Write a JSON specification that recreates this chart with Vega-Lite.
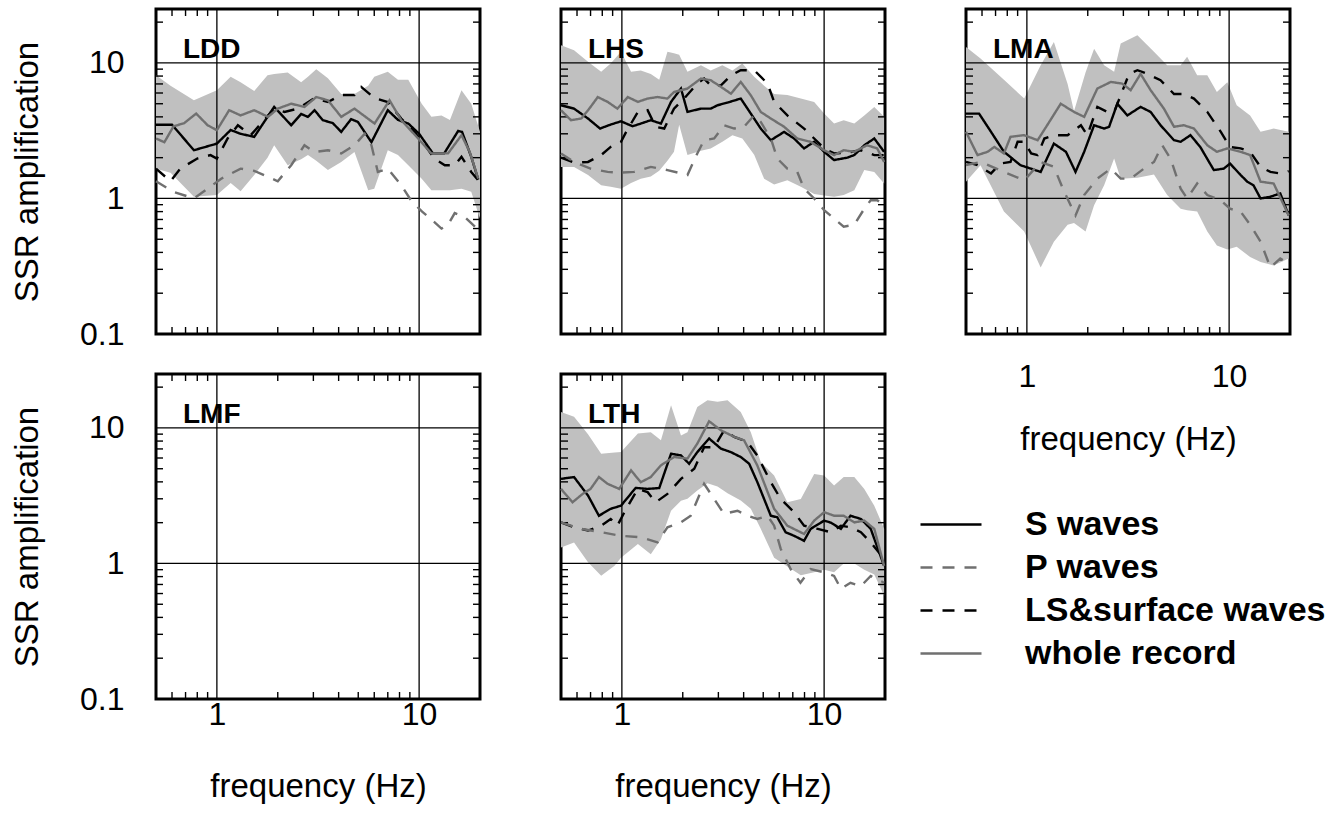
{
"$schema": "https://vega.github.io/schema/vega-lite/v6.json",
"padding": {"left": 10, "top": 6, "right": 5, "bottom": 5},
"config": {
  "font": "Liberation Sans",
  "view": {"stroke": "black", "strokeWidth": 3},
  "axis": {"ticks": false, "domain": false, "grid": false, "labelFont": "Liberation Sans", "labelFontSize": 32, "labelColor": "black", "labelOverlap": false, "labelFlush": false, "labelBound": false, "titleFont": "Liberation Sans", "titleFontSize": 33, "titleFontWeight": "normal", "titleColor": "black", "zindex": 1},
  "legend": {"symbolType": "stroke", "symbolSize": 3721, "symbolStrokeWidth": 2.5, "labelFontSize": 34, "labelFontWeight": "bold", "labelFont": "Liberation Sans", "labelColor": "black", "labelOffset": 42, "clipHeight": 43, "rowPadding": 0, "padding": 0, "labelLimit": 500}
},
"datasets": {
"gridvals": [{"g": 1}, {"g": 10}],
"xticks": [{"t": 0.6}, {"t": 0.7}, {"t": 0.8}, {"t": 0.9}, {"t": 2}, {"t": 3}, {"t": 4}, {"t": 5}, {"t": 6}, {"t": 7}, {"t": 8}, {"t": 9}],
"yticks": [{"t": 0.2}, {"t": 0.3}, {"t": 0.4}, {"t": 0.5}, {"t": 0.6}, {"t": 0.7}, {"t": 0.8}, {"t": 0.9}, {"t": 2}, {"t": 3}, {"t": 4}, {"t": 5}, {"t": 6}, {"t": 7}, {"t": 8}, {"t": 9}, {"t": 20}],
"names": [{"st": "LDD", "f": 0.68, "a": 10.8}, {"st": "LHS", "f": 0.68, "a": 10.8}, {"st": "LMA", "f": 0.68, "a": 10.8}, {"st": "LMF", "f": 0.68, "a": 10.8}, {"st": "LTH", "f": 0.68, "a": 10.8}],
"band": [
{"st":"LDD","f":0.5,"lo":1.66,"hi":8.1},{"st":"LDD","f":0.59,"lo":1.55,"hi":6.8},{"st":"LDD","f":0.77,"lo":1.03,"hi":5.3},{"st":"LDD","f":1.0,"lo":1.06,"hi":6.3},{"st":"LDD","f":1.17,"lo":1.3,"hi":7.9},{"st":"LDD","f":1.31,"lo":1.13,"hi":7.2},{"st":"LDD","f":1.53,"lo":1.49,"hi":6.2},{"st":"LDD","f":1.78,"lo":2.0,"hi":8.1},{"st":"LDD","f":1.92,"lo":2.47,"hi":8.3},{"st":"LDD","f":2.24,"lo":1.76,"hi":8.5},{"st":"LDD","f":2.61,"lo":1.95,"hi":7.2},{"st":"LDD","f":2.82,"lo":2.09,"hi":7.9},{"st":"LDD","f":3.1,"lo":1.9,"hi":9.0},{"st":"LDD","f":3.54,"lo":1.62,"hi":7.7},{"st":"LDD","f":4.12,"lo":1.86,"hi":5.9},{"st":"LDD","f":4.79,"lo":2.2,"hi":5.9},{"st":"LDD","f":5.6,"lo":1.15,"hi":6.8},{"st":"LDD","f":6.0,"lo":1.18,"hi":7.9},{"st":"LDD","f":7.0,"lo":2.27,"hi":8.6},{"st":"LDD","f":7.86,"lo":2.09,"hi":7.5},{"st":"LDD","f":8.84,"lo":1.76,"hi":7.5},{"st":"LDD","f":10.3,"lo":1.4,"hi":5.0},{"st":"LDD","f":11.5,"lo":1.15,"hi":4.0},{"st":"LDD","f":12.9,"lo":1.15,"hi":4.1},{"st":"LDD","f":14.2,"lo":1.15,"hi":3.8},{"st":"LDD","f":16.2,"lo":1.18,"hi":6.3},{"st":"LDD","f":18.1,"lo":1.12,"hi":5.0},{"st":"LDD","f":20,"lo":0.71,"hi":3.1},
{"st":"LHS","f":0.5,"lo":1.71,"hi":13.5},{"st":"LHS","f":0.58,"lo":1.71,"hi":12.4},{"st":"LHS","f":0.68,"lo":1.49,"hi":10.2},{"st":"LHS","f":0.79,"lo":1.25,"hi":8.6},{"st":"LHS","f":0.88,"lo":1.22,"hi":9.9},{"st":"LHS","f":0.99,"lo":1.18,"hi":12.1},{"st":"LHS","f":1.11,"lo":1.3,"hi":8.6},{"st":"LHS","f":1.24,"lo":1.4,"hi":8.8},{"st":"LHS","f":1.39,"lo":1.45,"hi":8.3},{"st":"LHS","f":1.53,"lo":1.6,"hi":7.5},{"st":"LHS","f":1.68,"lo":1.9,"hi":12.1},{"st":"LHS","f":1.81,"lo":2.21,"hi":11.8},{"st":"LHS","f":1.92,"lo":3.5,"hi":11.5},{"st":"LHS","f":2.11,"lo":2.09,"hi":8.6},{"st":"LHS","f":2.46,"lo":2.25,"hi":9.6},{"st":"LHS","f":2.75,"lo":2.34,"hi":8.8},{"st":"LHS","f":3.14,"lo":2.62,"hi":9.6},{"st":"LHS","f":3.52,"lo":2.93,"hi":8.8},{"st":"LHS","f":3.94,"lo":2.77,"hi":9.9},{"st":"LHS","f":4.51,"lo":2.1,"hi":7.9},{"st":"LHS","f":5.05,"lo":1.4,"hi":6.8},{"st":"LHS","f":5.66,"lo":1.27,"hi":5.9},{"st":"LHS","f":6.58,"lo":1.36,"hi":5.8},{"st":"LHS","f":7.67,"lo":1.22,"hi":5.46},{"st":"LHS","f":8.93,"lo":1.08,"hi":5.16},{"st":"LHS","f":10,"lo":1.05,"hi":4.23},{"st":"LHS","f":11.2,"lo":1.03,"hi":3.57},{"st":"LHS","f":12.5,"lo":1.06,"hi":3.78},{"st":"LHS","f":14.1,"lo":1.15,"hi":3.57},{"st":"LHS","f":15.8,"lo":1.62,"hi":4.1},{"st":"LHS","f":17.7,"lo":1.57,"hi":4.74},{"st":"LHS","f":19.8,"lo":1.29,"hi":4.0},
{"st":"LMA","f":0.5,"lo":1.33,"hi":13.1},{"st":"LMA","f":0.59,"lo":1.76,"hi":10.8},{"st":"LMA","f":0.77,"lo":0.8,"hi":7.5},{"st":"LMA","f":0.97,"lo":0.57,"hi":5.46},{"st":"LMA","f":1.17,"lo":0.31,"hi":9.6},{"st":"LMA","f":1.36,"lo":0.48,"hi":14.3},{"st":"LMA","f":1.59,"lo":0.64,"hi":7.0},{"st":"LMA","f":1.71,"lo":0.66,"hi":4.4},{"st":"LMA","f":1.95,"lo":0.57,"hi":8.5},{"st":"LMA","f":2.15,"lo":0.89,"hi":12.7},{"st":"LMA","f":2.41,"lo":1.25,"hi":9.6},{"st":"LMA","f":2.7,"lo":1.97,"hi":8.6},{"st":"LMA","f":2.91,"lo":1.4,"hi":13.9},{"st":"LMA","f":3.52,"lo":1.42,"hi":16.0},{"st":"LMA","f":4.25,"lo":1.5,"hi":12.1},{"st":"LMA","f":4.94,"lo":1.06,"hi":9.6},{"st":"LMA","f":5.76,"lo":0.84,"hi":9.6},{"st":"LMA","f":6.2,"lo":0.82,"hi":11.1},{"st":"LMA","f":6.95,"lo":0.8,"hi":8.1},{"st":"LMA","f":7.8,"lo":0.57,"hi":8.1},{"st":"LMA","f":8.7,"lo":0.45,"hi":6.1},{"st":"LMA","f":9.8,"lo":0.42,"hi":7.2},{"st":"LMA","f":10.9,"lo":0.44,"hi":4.87},{"st":"LMA","f":12.7,"lo":0.37,"hi":4.1},{"st":"LMA","f":14.3,"lo":0.34,"hi":3.1},{"st":"LMA","f":16.6,"lo":0.32,"hi":3.28},{"st":"LMA","f":19.7,"lo":0.36,"hi":3.1},
{"st":"LTH","f":0.5,"lo":1.31,"hi":13.1},{"st":"LTH","f":0.58,"lo":1.43,"hi":12.1},{"st":"LTH","f":0.68,"lo":1.02,"hi":9.0},{"st":"LTH","f":0.79,"lo":0.81,"hi":6.45},{"st":"LTH","f":0.92,"lo":0.96,"hi":6.6},{"st":"LTH","f":0.99,"lo":1.1,"hi":6.64},{"st":"LTH","f":1.2,"lo":1.39,"hi":9.1},{"st":"LTH","f":1.39,"lo":1.17,"hi":9.3},{"st":"LTH","f":1.56,"lo":1.51,"hi":8.1},{"st":"LTH","f":1.75,"lo":2.45,"hi":14.7},{"st":"LTH","f":1.96,"lo":2.9,"hi":8.8},{"st":"LTH","f":2.11,"lo":3.0,"hi":9.3},{"st":"LTH","f":2.36,"lo":3.45,"hi":14.3},{"st":"LTH","f":2.65,"lo":3.9,"hi":16.0},{"st":"LTH","f":2.97,"lo":3.7,"hi":15.6},{"st":"LTH","f":3.33,"lo":3.3,"hi":16.0},{"st":"LTH","f":3.87,"lo":2.91,"hi":13.1},{"st":"LTH","f":4.34,"lo":2.53,"hi":9.3},{"st":"LTH","f":4.86,"lo":1.8,"hi":5.6},{"st":"LTH","f":5.66,"lo":1.1,"hi":4.46},{"st":"LTH","f":6.58,"lo":0.95,"hi":2.83},{"st":"LTH","f":7.67,"lo":0.82,"hi":2.99},{"st":"LTH","f":8.93,"lo":0.86,"hi":4.58},{"st":"LTH","f":10,"lo":0.9,"hi":4.46},{"st":"LTH","f":11.2,"lo":0.86,"hi":3.76},{"st":"LTH","f":12.5,"lo":1.0,"hi":4.34},{"st":"LTH","f":14.1,"lo":1.0,"hi":4.34},{"st":"LTH","f":15.8,"lo":0.9,"hi":3.55},{"st":"LTH","f":17.7,"lo":0.83,"hi":2.67},{"st":"LTH","f":19.8,"lo":0.58,"hi":1.8}
],
"lines": [
{"st":"LDD","s":"S waves","f":0.5,"a":3.5},{"st":"LDD","s":"S waves","f":0.6,"a":3.5},{"st":"LDD","s":"S waves","f":0.77,"a":2.27},{"st":"LDD","s":"S waves","f":1.0,"a":2.54},{"st":"LDD","s":"S waves","f":1.17,"a":3.2},{"st":"LDD","s":"S waves","f":1.31,"a":3.0},{"st":"LDD","s":"S waves","f":1.53,"a":2.85},{"st":"LDD","s":"S waves","f":1.92,"a":4.74},{"st":"LDD","s":"S waves","f":2.33,"a":3.47},{"st":"LDD","s":"S waves","f":2.61,"a":4.2},{"st":"LDD","s":"S waves","f":2.82,"a":4.0},{"st":"LDD","s":"S waves","f":3.04,"a":4.48},{"st":"LDD","s":"S waves","f":3.34,"a":3.78},{"st":"LDD","s":"S waves","f":3.74,"a":3.6},{"st":"LDD","s":"S waves","f":4.12,"a":3.1},{"st":"LDD","s":"S waves","f":4.61,"a":3.85},{"st":"LDD","s":"S waves","f":4.98,"a":3.67},{"st":"LDD","s":"S waves","f":5.81,"a":2.6},{"st":"LDD","s":"S waves","f":7.0,"a":4.48},{"st":"LDD","s":"S waves","f":7.86,"a":3.8},{"st":"LDD","s":"S waves","f":8.84,"a":3.57},{"st":"LDD","s":"S waves","f":10.0,"a":3.0},{"st":"LDD","s":"S waves","f":11.7,"a":2.15},{"st":"LDD","s":"S waves","f":13.3,"a":2.15},{"st":"LDD","s":"S waves","f":15.6,"a":3.15},{"st":"LDD","s":"S waves","f":16.3,"a":3.1},{"st":"LDD","s":"S waves","f":18.1,"a":2.03},{"st":"LDD","s":"S waves","f":19.6,"a":1.38},
{"st":"LDD","s":"LS&surface waves","f":0.5,"a":1.66},{"st":"LDD","s":"LS&surface waves","f":0.59,"a":1.34},{"st":"LDD","s":"LS&surface waves","f":0.66,"a":1.66},{"st":"LDD","s":"LS&surface waves","f":0.8,"a":1.97},{"st":"LDD","s":"LS&surface waves","f":0.93,"a":2.09},{"st":"LDD","s":"LS&surface waves","f":1.0,"a":1.97},{"st":"LDD","s":"LS&surface waves","f":1.13,"a":2.77},{"st":"LDD","s":"LS&surface waves","f":1.27,"a":3.47},{"st":"LDD","s":"LS&surface waves","f":1.47,"a":2.93},{"st":"LDD","s":"LS&surface waves","f":1.92,"a":4.6},{"st":"LDD","s":"LS&surface waves","f":2.16,"a":4.35},{"st":"LDD","s":"LS&surface waves","f":2.51,"a":4.6},{"st":"LDD","s":"LS&surface waves","f":3.04,"a":5.5},{"st":"LDD","s":"LS&surface waves","f":3.54,"a":5.15},{"st":"LDD","s":"LS&surface waves","f":4.12,"a":5.8},{"st":"LDD","s":"LS&surface waves","f":4.79,"a":5.8},{"st":"LDD","s":"LS&surface waves","f":5.17,"a":6.65},{"st":"LDD","s":"LS&surface waves","f":6.02,"a":5.5},{"st":"LDD","s":"LS&surface waves","f":7.0,"a":5.15},{"st":"LDD","s":"LS&surface waves","f":8.16,"a":3.89},{"st":"LDD","s":"LS&surface waves","f":9.47,"a":3.1},{"st":"LDD","s":"LS&surface waves","f":10.7,"a":2.47},{"st":"LDD","s":"LS&surface waves","f":11.9,"a":1.97},{"st":"LDD","s":"LS&surface waves","f":13.4,"a":1.76},{"st":"LDD","s":"LS&surface waves","f":15.0,"a":1.76},{"st":"LDD","s":"LS&surface waves","f":16.2,"a":2.03},{"st":"LDD","s":"LS&surface waves","f":18.1,"a":1.57},{"st":"LDD","s":"LS&surface waves","f":19.6,"a":1.36},
{"st":"LDD","s":"whole record","f":0.5,"a":2.77},{"st":"LDD","s":"whole record","f":0.55,"a":2.6},{"st":"LDD","s":"whole record","f":0.61,"a":3.4},{"st":"LDD","s":"whole record","f":0.69,"a":3.6},{"st":"LDD","s":"whole record","f":0.79,"a":4.23},{"st":"LDD","s":"whole record","f":0.9,"a":3.47},{"st":"LDD","s":"whole record","f":1.0,"a":3.19},{"st":"LDD","s":"whole record","f":1.15,"a":4.48},{"st":"LDD","s":"whole record","f":1.31,"a":4.1},{"st":"LDD","s":"whole record","f":1.53,"a":4.48},{"st":"LDD","s":"whole record","f":1.79,"a":4.0},{"st":"LDD","s":"whole record","f":2.0,"a":4.6},{"st":"LDD","s":"whole record","f":2.33,"a":5.0},{"st":"LDD","s":"whole record","f":2.71,"a":4.74},{"st":"LDD","s":"whole record","f":3.1,"a":5.6},{"st":"LDD","s":"whole record","f":3.54,"a":5.3},{"st":"LDD","s":"whole record","f":4.12,"a":4.0},{"st":"LDD","s":"whole record","f":4.79,"a":4.6},{"st":"LDD","s":"whole record","f":6.02,"a":3.57},{"st":"LDD","s":"whole record","f":7.14,"a":5.3},{"st":"LDD","s":"whole record","f":8.16,"a":3.78},{"st":"LDD","s":"whole record","f":9.9,"a":2.77},{"st":"LDD","s":"whole record","f":11.5,"a":2.15},{"st":"LDD","s":"whole record","f":13.9,"a":2.15},{"st":"LDD","s":"whole record","f":16.2,"a":2.93},{"st":"LDD","s":"whole record","f":17.8,"a":2.2},{"st":"LDD","s":"whole record","f":19.6,"a":1.4},
{"st":"LDD","s":"P waves","f":0.5,"a":1.34},{"st":"LDD","s":"P waves","f":0.61,"a":1.12},{"st":"LDD","s":"P waves","f":0.77,"a":1.0},{"st":"LDD","s":"P waves","f":0.9,"a":1.18},{"st":"LDD","s":"P waves","f":1.05,"a":1.4},{"st":"LDD","s":"P waves","f":1.31,"a":1.66},{"st":"LDD","s":"P waves","f":1.53,"a":1.6},{"st":"LDD","s":"P waves","f":2.0,"a":1.34},{"st":"LDD","s":"P waves","f":2.33,"a":1.76},{"st":"LDD","s":"P waves","f":2.71,"a":2.47},{"st":"LDD","s":"P waves","f":3.04,"a":2.2},{"st":"LDD","s":"P waves","f":3.54,"a":2.27},{"st":"LDD","s":"P waves","f":4.12,"a":2.15},{"st":"LDD","s":"P waves","f":4.79,"a":2.47},{"st":"LDD","s":"P waves","f":5.38,"a":3.0},{"st":"LDD","s":"P waves","f":5.81,"a":2.47},{"st":"LDD","s":"P waves","f":6.25,"a":1.57},{"st":"LDD","s":"P waves","f":7.0,"a":1.66},{"st":"LDD","s":"P waves","f":8.16,"a":1.25},{"st":"LDD","s":"P waves","f":9.2,"a":0.95},{"st":"LDD","s":"P waves","f":10.35,"a":0.8},{"st":"LDD","s":"P waves","f":11.9,"a":0.67},{"st":"LDD","s":"P waves","f":12.9,"a":0.6},{"st":"LDD","s":"P waves","f":13.9,"a":0.64},{"st":"LDD","s":"P waves","f":15.0,"a":0.78},{"st":"LDD","s":"P waves","f":16.8,"a":0.73},{"st":"LDD","s":"P waves","f":18.9,"a":0.62},{"st":"LDD","s":"P waves","f":20,"a":0.71},
{"st":"LHS","s":"S waves","f":0.5,"a":4.87},{"st":"LHS","s":"S waves","f":0.58,"a":4.6},{"st":"LHS","s":"S waves","f":0.68,"a":3.89},{"st":"LHS","s":"S waves","f":0.78,"a":3.28},{"st":"LHS","s":"S waves","f":0.88,"a":3.51},{"st":"LHS","s":"S waves","f":0.99,"a":3.71},{"st":"LHS","s":"S waves","f":1.13,"a":3.41},{"st":"LHS","s":"S waves","f":1.24,"a":3.57},{"st":"LHS","s":"S waves","f":1.39,"a":3.78},{"st":"LHS","s":"S waves","f":1.56,"a":3.57},{"st":"LHS","s":"S waves","f":1.75,"a":5.16},{"st":"LHS","s":"S waves","f":1.96,"a":6.47},{"st":"LHS","s":"S waves","f":2.11,"a":4.35},{"st":"LHS","s":"S waves","f":2.46,"a":4.6},{"st":"LHS","s":"S waves","f":2.75,"a":4.6},{"st":"LHS","s":"S waves","f":2.97,"a":4.87},{"st":"LHS","s":"S waves","f":3.33,"a":5.1},{"st":"LHS","s":"S waves","f":3.87,"a":5.46},{"st":"LHS","s":"S waves","f":4.34,"a":4.23},{"st":"LHS","s":"S waves","f":4.86,"a":3.28},{"st":"LHS","s":"S waves","f":5.45,"a":2.69},{"st":"LHS","s":"S waves","f":6.34,"a":3.1},{"st":"LHS","s":"S waves","f":7.1,"a":2.77},{"st":"LHS","s":"S waves","f":7.96,"a":2.34},{"st":"LHS","s":"S waves","f":8.93,"a":2.62},{"st":"LHS","s":"S waves","f":10,"a":2.21},{"st":"LHS","s":"S waves","f":11.2,"a":1.92},{"st":"LHS","s":"S waves","f":13.0,"a":2.0},{"st":"LHS","s":"S waves","f":14.1,"a":2.09},{"st":"LHS","s":"S waves","f":15.8,"a":2.47},{"st":"LHS","s":"S waves","f":17.7,"a":2.77},{"st":"LHS","s":"S waves","f":19.8,"a":2.21},
{"st":"LHS","s":"LS&surface waves","f":0.5,"a":2.0},{"st":"LHS","s":"LS&surface waves","f":0.58,"a":1.84},{"st":"LHS","s":"LS&surface waves","f":0.68,"a":1.86},{"st":"LHS","s":"LS&surface waves","f":0.79,"a":2.09},{"st":"LHS","s":"LS&surface waves","f":0.88,"a":2.4},{"st":"LHS","s":"LS&surface waves","f":0.99,"a":2.62},{"st":"LHS","s":"LS&surface waves","f":1.05,"a":3.1},{"st":"LHS","s":"LS&surface waves","f":1.2,"a":4.35},{"st":"LHS","s":"LS&surface waves","f":1.34,"a":4.48},{"st":"LHS","s":"LS&surface waves","f":1.47,"a":3.38},{"st":"LHS","s":"LS&surface waves","f":1.62,"a":3.28},{"st":"LHS","s":"LS&surface waves","f":1.81,"a":4.6},{"st":"LHS","s":"LS&surface waves","f":2.03,"a":5.46},{"st":"LHS","s":"LS&surface waves","f":2.36,"a":7.04},{"st":"LHS","s":"LS&surface waves","f":2.55,"a":7.67},{"st":"LHS","s":"LS&surface waves","f":2.75,"a":6.83},{"st":"LHS","s":"LS&surface waves","f":3.09,"a":6.83},{"st":"LHS","s":"LS&surface waves","f":3.46,"a":8.1},{"st":"LHS","s":"LS&surface waves","f":3.87,"a":8.84},{"st":"LHS","s":"LS&surface waves","f":4.51,"a":8.84},{"st":"LHS","s":"LS&surface waves","f":5.25,"a":7.04},{"st":"LHS","s":"LS&surface waves","f":5.66,"a":5.16},{"st":"LHS","s":"LS&surface waves","f":6.58,"a":4.1},{"st":"LHS","s":"LS&surface waves","f":7.96,"a":3.28},{"st":"LHS","s":"LS&surface waves","f":8.93,"a":2.77},{"st":"LHS","s":"LS&surface waves","f":10,"a":2.34},{"st":"LHS","s":"LS&surface waves","f":11.2,"a":2.15},{"st":"LHS","s":"LS&surface waves","f":13,"a":2.18},{"st":"LHS","s":"LS&surface waves","f":15.2,"a":2.27},{"st":"LHS","s":"LS&surface waves","f":17.7,"a":2.09},{"st":"LHS","s":"LS&surface waves","f":19.8,"a":2.09},
{"st":"LHS","s":"whole record","f":0.5,"a":4.48},{"st":"LHS","s":"whole record","f":0.56,"a":3.78},{"st":"LHS","s":"whole record","f":0.63,"a":3.89},{"st":"LHS","s":"whole record","f":0.69,"a":4.6},{"st":"LHS","s":"whole record","f":0.76,"a":5.6},{"st":"LHS","s":"whole record","f":0.85,"a":5.16},{"st":"LHS","s":"whole record","f":0.95,"a":4.6},{"st":"LHS","s":"whole record","f":1.07,"a":5.6},{"st":"LHS","s":"whole record","f":1.2,"a":5.16},{"st":"LHS","s":"whole record","f":1.34,"a":5.46},{"st":"LHS","s":"whole record","f":1.5,"a":5.6},{"st":"LHS","s":"whole record","f":1.68,"a":5.46},{"st":"LHS","s":"whole record","f":1.81,"a":6.1},{"st":"LHS","s":"whole record","f":2.11,"a":6.47},{"st":"LHS","s":"whole record","f":2.46,"a":7.67},{"st":"LHS","s":"whole record","f":2.75,"a":7.45},{"st":"LHS","s":"whole record","f":3.09,"a":6.66},{"st":"LHS","s":"whole record","f":3.46,"a":5.93},{"st":"LHS","s":"whole record","f":3.87,"a":7.24},{"st":"LHS","s":"whole record","f":4.34,"a":5.77},{"st":"LHS","s":"whole record","f":4.86,"a":4.35},{"st":"LHS","s":"whole record","f":5.45,"a":3.89},{"st":"LHS","s":"whole record","f":6.34,"a":3.38},{"st":"LHS","s":"whole record","f":7.37,"a":2.77},{"st":"LHS","s":"whole record","f":8.56,"a":2.62},{"st":"LHS","s":"whole record","f":10,"a":2.27},{"st":"LHS","s":"whole record","f":11.2,"a":2.09},{"st":"LHS","s":"whole record","f":12.5,"a":2.27},{"st":"LHS","s":"whole record","f":14.1,"a":2.21},{"st":"LHS","s":"whole record","f":16.3,"a":2.47},{"st":"LHS","s":"whole record","f":18.3,"a":2.34},{"st":"LHS","s":"whole record","f":19.8,"a":1.86},
{"st":"LHS","s":"P waves","f":0.5,"a":2.15},{"st":"LHS","s":"P waves","f":0.58,"a":1.86},{"st":"LHS","s":"P waves","f":0.7,"a":1.66},{"st":"LHS","s":"P waves","f":0.85,"a":1.57},{"st":"LHS","s":"P waves","f":0.99,"a":1.55},{"st":"LHS","s":"P waves","f":1.15,"a":1.57},{"st":"LHS","s":"P waves","f":1.39,"a":1.71},{"st":"LHS","s":"P waves","f":1.68,"a":1.62},{"st":"LHS","s":"P waves","f":2.11,"a":1.49},{"st":"LHS","s":"P waves","f":2.36,"a":2.15},{"st":"LHS","s":"P waves","f":2.55,"a":2.69},{"st":"LHS","s":"P waves","f":2.86,"a":2.77},{"st":"LHS","s":"P waves","f":3.2,"a":3.47},{"st":"LHS","s":"P waves","f":3.59,"a":3.28},{"st":"LHS","s":"P waves","f":4.02,"a":3.38},{"st":"LHS","s":"P waves","f":4.51,"a":4.1},{"st":"LHS","s":"P waves","f":4.86,"a":3.67},{"st":"LHS","s":"P waves","f":5.45,"a":2.77},{"st":"LHS","s":"P waves","f":5.87,"a":1.97},{"st":"LHS","s":"P waves","f":6.58,"a":1.66},{"st":"LHS","s":"P waves","f":7.37,"a":1.57},{"st":"LHS","s":"P waves","f":7.96,"a":1.18},{"st":"LHS","s":"P waves","f":8.93,"a":1.0},{"st":"LHS","s":"P waves","f":10,"a":0.82},{"st":"LHS","s":"P waves","f":11.2,"a":0.71},{"st":"LHS","s":"P waves","f":12.5,"a":0.62},{"st":"LHS","s":"P waves","f":14.1,"a":0.64},{"st":"LHS","s":"P waves","f":15.8,"a":0.84},{"st":"LHS","s":"P waves","f":17,"a":0.97},{"st":"LHS","s":"P waves","f":18.3,"a":0.97},{"st":"LHS","s":"P waves","f":19.8,"a":0.89},
{"st":"LMA","s":"S waves","f":0.5,"a":4.23},{"st":"LMA","s":"S waves","f":0.58,"a":4.23},{"st":"LMA","s":"S waves","f":0.665,"a":3.1},{"st":"LMA","s":"S waves","f":0.77,"a":2.21},{"st":"LMA","s":"S waves","f":0.93,"a":1.76},{"st":"LMA","s":"S waves","f":1.17,"a":1.57},{"st":"LMA","s":"S waves","f":1.36,"a":2.54},{"st":"LMA","s":"S waves","f":1.56,"a":2.21},{"st":"LMA","s":"S waves","f":1.74,"a":1.57},{"st":"LMA","s":"S waves","f":1.92,"a":2.21},{"st":"LMA","s":"S waves","f":2.15,"a":3.47},{"st":"LMA","s":"S waves","f":2.41,"a":3.28},{"st":"LMA","s":"S waves","f":2.55,"a":3.38},{"st":"LMA","s":"S waves","f":2.8,"a":5.0},{"st":"LMA","s":"S waves","f":3.14,"a":4.1},{"st":"LMA","s":"S waves","f":3.65,"a":4.74},{"st":"LMA","s":"S waves","f":4.09,"a":4.35},{"st":"LMA","s":"S waves","f":4.58,"a":3.47},{"st":"LMA","s":"S waves","f":5.34,"a":2.69},{"st":"LMA","s":"S waves","f":5.76,"a":2.62},{"st":"LMA","s":"S waves","f":6.44,"a":2.93},{"st":"LMA","s":"S waves","f":7.2,"a":2.4},{"st":"LMA","s":"S waves","f":8.4,"a":1.62},{"st":"LMA","s":"S waves","f":9.4,"a":1.66},{"st":"LMA","s":"S waves","f":10.1,"a":1.81},{"st":"LMA","s":"S waves","f":11.4,"a":1.49},{"st":"LMA","s":"S waves","f":12.3,"a":1.33},{"st":"LMA","s":"S waves","f":13.2,"a":1.25},{"st":"LMA","s":"S waves","f":14.3,"a":1.0},{"st":"LMA","s":"S waves","f":16.0,"a":1.03},{"st":"LMA","s":"S waves","f":17.9,"a":1.09},{"st":"LMA","s":"S waves","f":19.7,"a":0.75},
{"st":"LMA","s":"LS&surface waves","f":0.5,"a":1.86},{"st":"LMA","s":"LS&surface waves","f":0.57,"a":1.76},{"st":"LMA","s":"LS&surface waves","f":0.665,"a":1.53},{"st":"LMA","s":"LS&surface waves","f":0.74,"a":1.81},{"st":"LMA","s":"LS&surface waves","f":0.83,"a":1.86},{"st":"LMA","s":"LS&surface waves","f":0.9,"a":2.62},{"st":"LMA","s":"LS&surface waves","f":0.97,"a":2.62},{"st":"LMA","s":"LS&surface waves","f":1.05,"a":2.15},{"st":"LMA","s":"LS&surface waves","f":1.13,"a":2.09},{"st":"LMA","s":"LS&surface waves","f":1.22,"a":2.77},{"st":"LMA","s":"LS&surface waves","f":1.36,"a":2.93},{"st":"LMA","s":"LS&surface waves","f":1.59,"a":2.93},{"st":"LMA","s":"LS&surface waves","f":1.85,"a":3.47},{"st":"LMA","s":"LS&surface waves","f":1.99,"a":2.93},{"st":"LMA","s":"LS&surface waves","f":2.23,"a":4.74},{"st":"LMA","s":"LS&surface waves","f":2.5,"a":4.35},{"st":"LMA","s":"LS&surface waves","f":2.7,"a":4.35},{"st":"LMA","s":"LS&surface waves","f":2.91,"a":5.77},{"st":"LMA","s":"LS&surface waves","f":3.2,"a":8.3},{"st":"LMA","s":"LS&surface waves","f":3.52,"a":8.84},{"st":"LMA","s":"LS&surface waves","f":3.94,"a":8.3},{"st":"LMA","s":"LS&surface waves","f":4.58,"a":7.45},{"st":"LMA","s":"LS&surface waves","f":5.34,"a":5.9},{"st":"LMA","s":"LS&surface waves","f":5.97,"a":5.9},{"st":"LMA","s":"LS&surface waves","f":6.7,"a":5.46},{"st":"LMA","s":"LS&surface waves","f":7.8,"a":4.35},{"st":"LMA","s":"LS&surface waves","f":9.1,"a":3.1},{"st":"LMA","s":"LS&surface waves","f":10.1,"a":2.4},{"st":"LMA","s":"LS&surface waves","f":11.4,"a":2.34},{"st":"LMA","s":"LS&surface waves","f":12.7,"a":2.21},{"st":"LMA","s":"LS&surface waves","f":14.3,"a":1.71},{"st":"LMA","s":"LS&surface waves","f":16.0,"a":1.57},{"st":"LMA","s":"LS&surface waves","f":17.9,"a":1.53},{"st":"LMA","s":"LS&surface waves","f":19.7,"a":1.59},
{"st":"LMA","s":"whole record","f":0.5,"a":3.1},{"st":"LMA","s":"whole record","f":0.57,"a":2.09},{"st":"LMA","s":"whole record","f":0.64,"a":2.21},{"st":"LMA","s":"whole record","f":0.69,"a":2.4},{"st":"LMA","s":"whole record","f":0.77,"a":2.15},{"st":"LMA","s":"whole record","f":0.83,"a":2.85},{"st":"LMA","s":"whole record","f":0.97,"a":2.93},{"st":"LMA","s":"whole record","f":1.13,"a":2.69},{"st":"LMA","s":"whole record","f":1.26,"a":3.47},{"st":"LMA","s":"whole record","f":1.47,"a":5.0},{"st":"LMA","s":"whole record","f":1.71,"a":4.35},{"st":"LMA","s":"whole record","f":1.92,"a":4.0},{"st":"LMA","s":"whole record","f":2.23,"a":6.47},{"st":"LMA","s":"whole record","f":2.6,"a":7.24},{"st":"LMA","s":"whole record","f":2.96,"a":7.04},{"st":"LMA","s":"whole record","f":3.26,"a":6.3},{"st":"LMA","s":"whole record","f":3.65,"a":8.3},{"st":"LMA","s":"whole record","f":4.09,"a":6.3},{"st":"LMA","s":"whole record","f":4.76,"a":4.6},{"st":"LMA","s":"whole record","f":5.34,"a":3.38},{"st":"LMA","s":"whole record","f":5.97,"a":3.47},{"st":"LMA","s":"whole record","f":6.7,"a":3.28},{"st":"LMA","s":"whole record","f":7.8,"a":2.47},{"st":"LMA","s":"whole record","f":8.7,"a":2.21},{"st":"LMA","s":"whole record","f":9.8,"a":2.34},{"st":"LMA","s":"whole record","f":11.4,"a":2.21},{"st":"LMA","s":"whole record","f":12.7,"a":2.09},{"st":"LMA","s":"whole record","f":14.3,"a":1.33},{"st":"LMA","s":"whole record","f":16.6,"a":1.29},{"st":"LMA","s":"whole record","f":19.7,"a":0.75},
{"st":"LMA","s":"P waves","f":0.5,"a":1.76},{"st":"LMA","s":"P waves","f":0.59,"a":1.86},{"st":"LMA","s":"P waves","f":0.77,"a":1.57},{"st":"LMA","s":"P waves","f":0.97,"a":1.36},{"st":"LMA","s":"P waves","f":1.17,"a":1.86},{"st":"LMA","s":"P waves","f":1.36,"a":1.71},{"st":"LMA","s":"P waves","f":1.53,"a":1.12},{"st":"LMA","s":"P waves","f":1.74,"a":0.75},{"st":"LMA","s":"P waves","f":1.92,"a":1.06},{"st":"LMA","s":"P waves","f":2.23,"a":1.4},{"st":"LMA","s":"P waves","f":2.6,"a":1.66},{"st":"LMA","s":"P waves","f":2.91,"a":1.4},{"st":"LMA","s":"P waves","f":3.26,"a":1.4},{"st":"LMA","s":"P waves","f":3.79,"a":1.66},{"st":"LMA","s":"P waves","f":4.25,"a":1.86},{"st":"LMA","s":"P waves","f":4.67,"a":2.47},{"st":"LMA","s":"P waves","f":5.13,"a":1.97},{"st":"LMA","s":"P waves","f":5.76,"a":1.18},{"st":"LMA","s":"P waves","f":6.2,"a":1.0},{"st":"LMA","s":"P waves","f":6.95,"a":1.29},{"st":"LMA","s":"P waves","f":7.8,"a":1.06},{"st":"LMA","s":"P waves","f":9.1,"a":0.97},{"st":"LMA","s":"P waves","f":10.1,"a":0.84},{"st":"LMA","s":"P waves","f":11.4,"a":0.8},{"st":"LMA","s":"P waves","f":12.7,"a":0.64},{"st":"LMA","s":"P waves","f":14.3,"a":0.48},{"st":"LMA","s":"P waves","f":16.0,"a":0.31},{"st":"LMA","s":"P waves","f":17.9,"a":0.36},{"st":"LMA","s":"P waves","f":19.7,"a":0.33},
{"st":"LTH","s":"S waves","f":0.5,"a":4.21},{"st":"LTH","s":"S waves","f":0.58,"a":4.34},{"st":"LTH","s":"S waves","f":0.68,"a":3.17},{"st":"LTH","s":"S waves","f":0.77,"a":2.25},{"st":"LTH","s":"S waves","f":0.88,"a":2.53},{"st":"LTH","s":"S waves","f":0.99,"a":2.67},{"st":"LTH","s":"S waves","f":1.17,"a":3.61},{"st":"LTH","s":"S waves","f":1.34,"a":3.55},{"st":"LTH","s":"S waves","f":1.53,"a":3.6},{"st":"LTH","s":"S waves","f":1.75,"a":6.45},{"st":"LTH","s":"S waves","f":1.96,"a":6.27},{"st":"LTH","s":"S waves","f":2.15,"a":5.44},{"st":"LTH","s":"S waves","f":2.36,"a":6.63},{"st":"LTH","s":"S waves","f":2.7,"a":8.35},{"st":"LTH","s":"S waves","f":3.09,"a":7.03},{"st":"LTH","s":"S waves","f":3.46,"a":6.63},{"st":"LTH","s":"S waves","f":3.87,"a":6.1},{"st":"LTH","s":"S waves","f":4.26,"a":5.44},{"st":"LTH","s":"S waves","f":4.67,"a":4.0},{"st":"LTH","s":"S waves","f":5.45,"a":2.25},{"st":"LTH","s":"S waves","f":5.87,"a":2.19},{"st":"LTH","s":"S waves","f":6.45,"a":1.7},{"st":"LTH","s":"S waves","f":7.1,"a":1.6},{"st":"LTH","s":"S waves","f":7.96,"a":1.47},{"st":"LTH","s":"S waves","f":8.58,"a":1.8},{"st":"LTH","s":"S waves","f":10,"a":2.07},{"st":"LTH","s":"S waves","f":10.8,"a":2.0},{"st":"LTH","s":"S waves","f":12.1,"a":1.8},{"st":"LTH","s":"S waves","f":13.5,"a":2.25},{"st":"LTH","s":"S waves","f":15.2,"a":2.13},{"st":"LTH","s":"S waves","f":17.0,"a":1.8},{"st":"LTH","s":"S waves","f":19.8,"a":0.96},
{"st":"LTH","s":"LS&surface waves","f":0.5,"a":2.01},{"st":"LTH","s":"LS&surface waves","f":0.58,"a":1.85},{"st":"LTH","s":"LS&surface waves","f":0.68,"a":1.75},{"st":"LTH","s":"LS&surface waves","f":0.79,"a":1.9},{"st":"LTH","s":"LS&surface waves","f":0.88,"a":2.13},{"st":"LTH","s":"LS&surface waves","f":0.95,"a":1.9},{"st":"LTH","s":"LS&surface waves","f":1.05,"a":2.53},{"st":"LTH","s":"LS&surface waves","f":1.2,"a":3.55},{"st":"LTH","s":"LS&surface waves","f":1.34,"a":3.36},{"st":"LTH","s":"LS&surface waves","f":1.47,"a":2.83},{"st":"LTH","s":"LS&surface waves","f":1.68,"a":3.26},{"st":"LTH","s":"LS&surface waves","f":1.96,"a":4.21},{"st":"LTH","s":"LS&surface waves","f":2.28,"a":5.0},{"st":"LTH","s":"LS&surface waves","f":2.55,"a":7.2},{"st":"LTH","s":"LS&surface waves","f":2.86,"a":7.2},{"st":"LTH","s":"LS&surface waves","f":3.2,"a":9.6},{"st":"LTH","s":"LS&surface waves","f":3.59,"a":8.6},{"st":"LTH","s":"LS&surface waves","f":4.17,"a":7.9},{"st":"LTH","s":"LS&surface waves","f":4.67,"a":6.27},{"st":"LTH","s":"LS&surface waves","f":5.45,"a":3.98},{"st":"LTH","s":"LS&surface waves","f":6.1,"a":2.99},{"st":"LTH","s":"LS&surface waves","f":7.1,"a":2.39},{"st":"LTH","s":"LS&surface waves","f":7.96,"a":1.9},{"st":"LTH","s":"LS&surface waves","f":9.3,"a":1.8},{"st":"LTH","s":"LS&surface waves","f":10.8,"a":1.7},{"st":"LTH","s":"LS&surface waves","f":12.1,"a":1.9},{"st":"LTH","s":"LS&surface waves","f":13.5,"a":1.85},{"st":"LTH","s":"LS&surface waves","f":15.2,"a":1.7},{"st":"LTH","s":"LS&surface waves","f":17.0,"a":1.43},{"st":"LTH","s":"LS&surface waves","f":19.8,"a":1.08},
{"st":"LTH","s":"whole record","f":0.5,"a":3.55},{"st":"LTH","s":"whole record","f":0.57,"a":2.83},{"st":"LTH","s":"whole record","f":0.64,"a":3.26},{"st":"LTH","s":"whole record","f":0.7,"a":3.55},{"st":"LTH","s":"whole record","f":0.77,"a":4.34},{"st":"LTH","s":"whole record","f":0.85,"a":3.87},{"st":"LTH","s":"whole record","f":0.97,"a":3.55},{"st":"LTH","s":"whole record","f":1.11,"a":4.86},{"st":"LTH","s":"whole record","f":1.24,"a":3.98},{"st":"LTH","s":"whole record","f":1.39,"a":4.34},{"st":"LTH","s":"whole record","f":1.56,"a":5.3},{"st":"LTH","s":"whole record","f":1.81,"a":6.1},{"st":"LTH","s":"whole record","f":2.11,"a":5.94},{"st":"LTH","s":"whole record","f":2.36,"a":7.66},{"st":"LTH","s":"whole record","f":2.7,"a":11.2},{"st":"LTH","s":"whole record","f":3.09,"a":9.6},{"st":"LTH","s":"whole record","f":3.59,"a":8.6},{"st":"LTH","s":"whole record","f":4.02,"a":8.1},{"st":"LTH","s":"whole record","f":4.67,"a":5.3},{"st":"LTH","s":"whole record","f":5.66,"a":2.53},{"st":"LTH","s":"whole record","f":6.58,"a":1.9},{"st":"LTH","s":"whole record","f":7.96,"a":1.65},{"st":"LTH","s":"whole record","f":8.93,"a":2.07},{"st":"LTH","s":"whole record","f":10,"a":2.39},{"st":"LTH","s":"whole record","f":11.2,"a":2.25},{"st":"LTH","s":"whole record","f":12.5,"a":2.25},{"st":"LTH","s":"whole record","f":14.1,"a":2.01},{"st":"LTH","s":"whole record","f":15.8,"a":2.07},{"st":"LTH","s":"whole record","f":17.7,"a":1.8},{"st":"LTH","s":"whole record","f":19.8,"a":0.96},
{"st":"LTH","s":"P waves","f":0.5,"a":2.01},{"st":"LTH","s":"P waves","f":0.63,"a":1.8},{"st":"LTH","s":"P waves","f":0.79,"a":1.7},{"st":"LTH","s":"P waves","f":0.99,"a":1.6},{"st":"LTH","s":"P waves","f":1.24,"a":1.56},{"st":"LTH","s":"P waves","f":1.5,"a":1.43},{"st":"LTH","s":"P waves","f":1.68,"a":1.85},{"st":"LTH","s":"P waves","f":1.96,"a":2.01},{"st":"LTH","s":"P waves","f":2.19,"a":2.25},{"st":"LTH","s":"P waves","f":2.55,"a":3.87},{"st":"LTH","s":"P waves","f":2.86,"a":2.99},{"st":"LTH","s":"P waves","f":3.2,"a":2.32},{"st":"LTH","s":"P waves","f":3.73,"a":2.45},{"st":"LTH","s":"P waves","f":4.17,"a":2.25},{"st":"LTH","s":"P waves","f":4.67,"a":2.13},{"st":"LTH","s":"P waves","f":5.25,"a":2.25},{"st":"LTH","s":"P waves","f":5.66,"a":1.9},{"st":"LTH","s":"P waves","f":6.1,"a":1.28},{"st":"LTH","s":"P waves","f":6.83,"a":0.91},{"st":"LTH","s":"P waves","f":7.64,"a":0.72},{"st":"LTH","s":"P waves","f":8.58,"a":0.91},{"st":"LTH","s":"P waves","f":10,"a":0.86},{"st":"LTH","s":"P waves","f":11.2,"a":0.81},{"st":"LTH","s":"P waves","f":12.1,"a":0.65},{"st":"LTH","s":"P waves","f":13.5,"a":0.72},{"st":"LTH","s":"P waves","f":15.2,"a":0.68},{"st":"LTH","s":"P waves","f":17.0,"a":0.81},{"st":"LTH","s":"P waves","f":19.8,"a":0.72}
]
},
"columns": 3,
"bounds": "flush",
"spacing": {"row": 40, "column": 81},
"concat": [
{"width": 324, "height": 325, "resolve": {"axis": {"x": "independent", "y": "independent"}}, "layer": [
 {"data": {"name": "band"}, "transform": [{"filter": "datum.st == 'LDD'"}], "mark": {"type": "area", "color": "#c0c0c0", "opacity": 1},
  "encoding": {"x": {"field": "f", "type": "quantitative", "scale": {"type": "log", "domain": [0.5, 20], "nice": false}, "axis": null},
   "y": {"field": "lo", "type": "quantitative", "scale": {"type": "log", "domain": [0.1, 25], "nice": false}, "axis": {"orient": "left", "values": [0.1,1,10], "labelExpr": "datum.value == 0.1 ? '0.1' : datum.value == 1 ? '1' : '10'", "labelPadding": 32, "title": "SSR amplification", "titlePadding": 35}},
   "y2": {"field": "hi"}}},
 {"data": {"name": "gridvals"}, "mark": {"type": "rule", "color": "black", "strokeWidth": 1.3}, "encoding": {"x": {"field": "g", "type": "quantitative", "axis": null}}},
 {"data": {"name": "gridvals"}, "mark": {"type": "rule", "color": "black", "strokeWidth": 1.3}, "encoding": {"y": {"field": "g", "type": "quantitative", "axis": null}}},
 {"data": {"name": "xticks"}, "mark": {"type": "rule", "color": "black", "strokeWidth": 1.4}, "encoding": {"x": {"field": "t", "type": "quantitative", "axis": null}, "y": {"datum": 0.1, "type": "quantitative", "axis": null}, "y2": {"datum": 0.1126}}},
 {"data": {"name": "xticks"}, "mark": {"type": "rule", "color": "black", "strokeWidth": 1.4}, "encoding": {"x": {"field": "t", "type": "quantitative", "axis": null}, "y": {"datum": 25, "type": "quantitative", "axis": null}, "y2": {"datum": 22.2}}},
 {"data": {"name": "yticks"}, "mark": {"type": "rule", "color": "black", "strokeWidth": 1.4}, "encoding": {"y": {"field": "t", "type": "quantitative", "axis": null}, "x": {"datum": 0.5, "type": "quantitative", "axis": null}, "x2": {"datum": 0.5415}}},
 {"data": {"name": "yticks"}, "mark": {"type": "rule", "color": "black", "strokeWidth": 1.4}, "encoding": {"y": {"field": "t", "type": "quantitative", "axis": null}, "x": {"datum": 20, "type": "quantitative", "axis": null}, "x2": {"datum": 18.47}}},
 {"data": {"name": "lines"}, "transform": [{"filter": "datum.st == 'LDD'"}], "mark": {"type": "line", "strokeWidth": 2.4},
  "encoding": {"x": {"field": "f", "type": "quantitative", "axis": null}, "y": {"field": "a", "type": "quantitative", "axis": null},
   "color": {"field": "s", "type": "nominal", "scale": {"domain": ["S waves", "P waves", "LS&surface waves", "whole record"], "range": ["#000000", "#707070", "#000000", "#707070"]}, "legend": {"title": null, "orient": "none", "legendX": 763, "legendY": 494}},
   "strokeDash": {"field": "s", "type": "nominal", "scale": {"domain": ["S waves", "P waves", "LS&surface waves", "whole record"], "range": [[1,0],[12,10],[12,10],[1,0]]}, "legend": {"title": null, "orient": "none", "legendX": 763, "legendY": 494}}}},
 {"data": {"name": "names"}, "transform": [{"filter": "datum.st == 'LDD'"}], "mark": {"type": "text", "align": "left", "baseline": "alphabetic", "fontSize": 28, "fontWeight": "bold", "font": "Liberation Sans", "color": "black"},
  "encoding": {"x": {"field": "f", "type": "quantitative", "axis": null}, "y": {"field": "a", "type": "quantitative", "axis": null}, "text": {"field": "st"}}}
]},
{"width": 324, "height": 325, "resolve": {"axis": {"x": "independent", "y": "independent"}}, "layer": [
 {"data": {"name": "band"}, "transform": [{"filter": "datum.st == 'LHS'"}], "mark": {"type": "area", "color": "#c0c0c0", "opacity": 1},
  "encoding": {"x": {"field": "f", "type": "quantitative", "scale": {"type": "log", "domain": [0.5, 20], "nice": false}, "axis": null},
   "y": {"field": "lo", "type": "quantitative", "scale": {"type": "log", "domain": [0.1, 25], "nice": false}, "axis": null},
   "y2": {"field": "hi"}}},
 {"data": {"name": "gridvals"}, "mark": {"type": "rule", "color": "black", "strokeWidth": 1.3}, "encoding": {"x": {"field": "g", "type": "quantitative", "axis": null}}},
 {"data": {"name": "gridvals"}, "mark": {"type": "rule", "color": "black", "strokeWidth": 1.3}, "encoding": {"y": {"field": "g", "type": "quantitative", "axis": null}}},
 {"data": {"name": "xticks"}, "mark": {"type": "rule", "color": "black", "strokeWidth": 1.4}, "encoding": {"x": {"field": "t", "type": "quantitative", "axis": null}, "y": {"datum": 0.1, "type": "quantitative", "axis": null}, "y2": {"datum": 0.1126}}},
 {"data": {"name": "xticks"}, "mark": {"type": "rule", "color": "black", "strokeWidth": 1.4}, "encoding": {"x": {"field": "t", "type": "quantitative", "axis": null}, "y": {"datum": 25, "type": "quantitative", "axis": null}, "y2": {"datum": 22.2}}},
 {"data": {"name": "yticks"}, "mark": {"type": "rule", "color": "black", "strokeWidth": 1.4}, "encoding": {"y": {"field": "t", "type": "quantitative", "axis": null}, "x": {"datum": 0.5, "type": "quantitative", "axis": null}, "x2": {"datum": 0.5415}}},
 {"data": {"name": "yticks"}, "mark": {"type": "rule", "color": "black", "strokeWidth": 1.4}, "encoding": {"y": {"field": "t", "type": "quantitative", "axis": null}, "x": {"datum": 20, "type": "quantitative", "axis": null}, "x2": {"datum": 18.47}}},
 {"data": {"name": "lines"}, "transform": [{"filter": "datum.st == 'LHS'"}], "mark": {"type": "line", "strokeWidth": 2.4},
  "encoding": {"x": {"field": "f", "type": "quantitative", "axis": null}, "y": {"field": "a", "type": "quantitative", "axis": null},
   "color": {"field": "s", "type": "nominal", "scale": {"domain": ["S waves", "P waves", "LS&surface waves", "whole record"], "range": ["#000000", "#707070", "#000000", "#707070"]}, "legend": {"title": null, "orient": "none", "legendX": 763, "legendY": 494}},
   "strokeDash": {"field": "s", "type": "nominal", "scale": {"domain": ["S waves", "P waves", "LS&surface waves", "whole record"], "range": [[1,0],[12,10],[12,10],[1,0]]}, "legend": {"title": null, "orient": "none", "legendX": 763, "legendY": 494}}}},
 {"data": {"name": "names"}, "transform": [{"filter": "datum.st == 'LHS'"}], "mark": {"type": "text", "align": "left", "baseline": "alphabetic", "fontSize": 28, "fontWeight": "bold", "font": "Liberation Sans", "color": "black"},
  "encoding": {"x": {"field": "f", "type": "quantitative", "axis": null}, "y": {"field": "a", "type": "quantitative", "axis": null}, "text": {"field": "st"}}}
]},
{"width": 324, "height": 325, "resolve": {"axis": {"x": "independent", "y": "independent"}}, "layer": [
 {"data": {"name": "band"}, "transform": [{"filter": "datum.st == 'LMA'"}], "mark": {"type": "area", "color": "#c0c0c0", "opacity": 1},
  "encoding": {"x": {"field": "f", "type": "quantitative", "scale": {"type": "log", "domain": [0.5, 20], "nice": false}, "axis": {"orient": "bottom", "values": [1,10], "labelExpr": "datum.value == 1 ? '1' : '10'", "labelPadding": 27, "title": "frequency (Hz)", "titlePadding": 31}},
   "y": {"field": "lo", "type": "quantitative", "scale": {"type": "log", "domain": [0.1, 25], "nice": false}, "axis": null},
   "y2": {"field": "hi"}}},
 {"data": {"name": "gridvals"}, "mark": {"type": "rule", "color": "black", "strokeWidth": 1.3}, "encoding": {"x": {"field": "g", "type": "quantitative", "axis": null}}},
 {"data": {"name": "gridvals"}, "mark": {"type": "rule", "color": "black", "strokeWidth": 1.3}, "encoding": {"y": {"field": "g", "type": "quantitative", "axis": null}}},
 {"data": {"name": "xticks"}, "mark": {"type": "rule", "color": "black", "strokeWidth": 1.4}, "encoding": {"x": {"field": "t", "type": "quantitative", "axis": null}, "y": {"datum": 0.1, "type": "quantitative", "axis": null}, "y2": {"datum": 0.1126}}},
 {"data": {"name": "xticks"}, "mark": {"type": "rule", "color": "black", "strokeWidth": 1.4}, "encoding": {"x": {"field": "t", "type": "quantitative", "axis": null}, "y": {"datum": 25, "type": "quantitative", "axis": null}, "y2": {"datum": 22.2}}},
 {"data": {"name": "yticks"}, "mark": {"type": "rule", "color": "black", "strokeWidth": 1.4}, "encoding": {"y": {"field": "t", "type": "quantitative", "axis": null}, "x": {"datum": 0.5, "type": "quantitative", "axis": null}, "x2": {"datum": 0.5415}}},
 {"data": {"name": "yticks"}, "mark": {"type": "rule", "color": "black", "strokeWidth": 1.4}, "encoding": {"y": {"field": "t", "type": "quantitative", "axis": null}, "x": {"datum": 20, "type": "quantitative", "axis": null}, "x2": {"datum": 18.47}}},
 {"data": {"name": "lines"}, "transform": [{"filter": "datum.st == 'LMA'"}], "mark": {"type": "line", "strokeWidth": 2.4},
  "encoding": {"x": {"field": "f", "type": "quantitative", "axis": null}, "y": {"field": "a", "type": "quantitative", "axis": null},
   "color": {"field": "s", "type": "nominal", "scale": {"domain": ["S waves", "P waves", "LS&surface waves", "whole record"], "range": ["#000000", "#707070", "#000000", "#707070"]}, "legend": {"title": null, "orient": "none", "legendX": 763, "legendY": 494}},
   "strokeDash": {"field": "s", "type": "nominal", "scale": {"domain": ["S waves", "P waves", "LS&surface waves", "whole record"], "range": [[1,0],[12,10],[12,10],[1,0]]}, "legend": {"title": null, "orient": "none", "legendX": 763, "legendY": 494}}}},
 {"data": {"name": "names"}, "transform": [{"filter": "datum.st == 'LMA'"}], "mark": {"type": "text", "align": "left", "baseline": "alphabetic", "fontSize": 28, "fontWeight": "bold", "font": "Liberation Sans", "color": "black"},
  "encoding": {"x": {"field": "f", "type": "quantitative", "axis": null}, "y": {"field": "a", "type": "quantitative", "axis": null}, "text": {"field": "st"}}}
]},
{"width": 324, "height": 325, "resolve": {"axis": {"x": "independent", "y": "independent"}}, "layer": [
 {"data": {"name": "band"}, "transform": [{"filter": "datum.st == 'LMF'"}], "mark": {"type": "area", "color": "#c0c0c0", "opacity": 1},
  "encoding": {"x": {"field": "f", "type": "quantitative", "scale": {"type": "log", "domain": [0.5, 20], "nice": false}, "axis": {"orient": "bottom", "values": [1,10], "labelExpr": "datum.value == 1 ? '1' : '10'", "labelPadding": 0, "title": "frequency (Hz)", "titlePadding": 40}},
   "y": {"field": "lo", "type": "quantitative", "scale": {"type": "log", "domain": [0.1, 25], "nice": false}, "axis": {"orient": "left", "values": [0.1,1,10], "labelExpr": "datum.value == 0.1 ? '0.1' : datum.value == 1 ? '1' : '10'", "labelPadding": 32, "title": "SSR amplification", "titlePadding": 35}},
   "y2": {"field": "hi"}}},
 {"data": {"name": "gridvals"}, "mark": {"type": "rule", "color": "black", "strokeWidth": 1.3}, "encoding": {"x": {"field": "g", "type": "quantitative", "axis": null}}},
 {"data": {"name": "gridvals"}, "mark": {"type": "rule", "color": "black", "strokeWidth": 1.3}, "encoding": {"y": {"field": "g", "type": "quantitative", "axis": null}}},
 {"data": {"name": "xticks"}, "mark": {"type": "rule", "color": "black", "strokeWidth": 1.4}, "encoding": {"x": {"field": "t", "type": "quantitative", "axis": null}, "y": {"datum": 0.1, "type": "quantitative", "axis": null}, "y2": {"datum": 0.1126}}},
 {"data": {"name": "xticks"}, "mark": {"type": "rule", "color": "black", "strokeWidth": 1.4}, "encoding": {"x": {"field": "t", "type": "quantitative", "axis": null}, "y": {"datum": 25, "type": "quantitative", "axis": null}, "y2": {"datum": 22.2}}},
 {"data": {"name": "yticks"}, "mark": {"type": "rule", "color": "black", "strokeWidth": 1.4}, "encoding": {"y": {"field": "t", "type": "quantitative", "axis": null}, "x": {"datum": 0.5, "type": "quantitative", "axis": null}, "x2": {"datum": 0.5415}}},
 {"data": {"name": "yticks"}, "mark": {"type": "rule", "color": "black", "strokeWidth": 1.4}, "encoding": {"y": {"field": "t", "type": "quantitative", "axis": null}, "x": {"datum": 20, "type": "quantitative", "axis": null}, "x2": {"datum": 18.47}}},
 {"data": {"name": "lines"}, "transform": [{"filter": "datum.st == 'LMF'"}], "mark": {"type": "line", "strokeWidth": 2.4},
  "encoding": {"x": {"field": "f", "type": "quantitative", "axis": null}, "y": {"field": "a", "type": "quantitative", "axis": null},
   "color": {"field": "s", "type": "nominal", "scale": {"domain": ["S waves", "P waves", "LS&surface waves", "whole record"], "range": ["#000000", "#707070", "#000000", "#707070"]}, "legend": {"title": null, "orient": "none", "legendX": 763, "legendY": 494}},
   "strokeDash": {"field": "s", "type": "nominal", "scale": {"domain": ["S waves", "P waves", "LS&surface waves", "whole record"], "range": [[1,0],[12,10],[12,10],[1,0]]}, "legend": {"title": null, "orient": "none", "legendX": 763, "legendY": 494}}}},
 {"data": {"name": "names"}, "transform": [{"filter": "datum.st == 'LMF'"}], "mark": {"type": "text", "align": "left", "baseline": "alphabetic", "fontSize": 28, "fontWeight": "bold", "font": "Liberation Sans", "color": "black"},
  "encoding": {"x": {"field": "f", "type": "quantitative", "axis": null}, "y": {"field": "a", "type": "quantitative", "axis": null}, "text": {"field": "st"}}}
]},
{"width": 324, "height": 325, "resolve": {"axis": {"x": "independent", "y": "independent"}}, "layer": [
 {"data": {"name": "band"}, "transform": [{"filter": "datum.st == 'LTH'"}], "mark": {"type": "area", "color": "#c0c0c0", "opacity": 1},
  "encoding": {"x": {"field": "f", "type": "quantitative", "scale": {"type": "log", "domain": [0.5, 20], "nice": false}, "axis": {"orient": "bottom", "values": [1,10], "labelExpr": "datum.value == 1 ? '1' : '10'", "labelPadding": 0, "title": "frequency (Hz)", "titlePadding": 40}},
   "y": {"field": "lo", "type": "quantitative", "scale": {"type": "log", "domain": [0.1, 25], "nice": false}, "axis": null},
   "y2": {"field": "hi"}}},
 {"data": {"name": "gridvals"}, "mark": {"type": "rule", "color": "black", "strokeWidth": 1.3}, "encoding": {"x": {"field": "g", "type": "quantitative", "axis": null}}},
 {"data": {"name": "gridvals"}, "mark": {"type": "rule", "color": "black", "strokeWidth": 1.3}, "encoding": {"y": {"field": "g", "type": "quantitative", "axis": null}}},
 {"data": {"name": "xticks"}, "mark": {"type": "rule", "color": "black", "strokeWidth": 1.4}, "encoding": {"x": {"field": "t", "type": "quantitative", "axis": null}, "y": {"datum": 0.1, "type": "quantitative", "axis": null}, "y2": {"datum": 0.1126}}},
 {"data": {"name": "xticks"}, "mark": {"type": "rule", "color": "black", "strokeWidth": 1.4}, "encoding": {"x": {"field": "t", "type": "quantitative", "axis": null}, "y": {"datum": 25, "type": "quantitative", "axis": null}, "y2": {"datum": 22.2}}},
 {"data": {"name": "yticks"}, "mark": {"type": "rule", "color": "black", "strokeWidth": 1.4}, "encoding": {"y": {"field": "t", "type": "quantitative", "axis": null}, "x": {"datum": 0.5, "type": "quantitative", "axis": null}, "x2": {"datum": 0.5415}}},
 {"data": {"name": "yticks"}, "mark": {"type": "rule", "color": "black", "strokeWidth": 1.4}, "encoding": {"y": {"field": "t", "type": "quantitative", "axis": null}, "x": {"datum": 20, "type": "quantitative", "axis": null}, "x2": {"datum": 18.47}}},
 {"data": {"name": "lines"}, "transform": [{"filter": "datum.st == 'LTH'"}], "mark": {"type": "line", "strokeWidth": 2.4},
  "encoding": {"x": {"field": "f", "type": "quantitative", "axis": null}, "y": {"field": "a", "type": "quantitative", "axis": null},
   "color": {"field": "s", "type": "nominal", "scale": {"domain": ["S waves", "P waves", "LS&surface waves", "whole record"], "range": ["#000000", "#707070", "#000000", "#707070"]}, "legend": {"title": null, "orient": "none", "legendX": 763, "legendY": 494}},
   "strokeDash": {"field": "s", "type": "nominal", "scale": {"domain": ["S waves", "P waves", "LS&surface waves", "whole record"], "range": [[1,0],[12,10],[12,10],[1,0]]}, "legend": {"title": null, "orient": "none", "legendX": 763, "legendY": 494}}}},
 {"data": {"name": "names"}, "transform": [{"filter": "datum.st == 'LTH'"}], "mark": {"type": "text", "align": "left", "baseline": "alphabetic", "fontSize": 28, "fontWeight": "bold", "font": "Liberation Sans", "color": "black"},
  "encoding": {"x": {"field": "f", "type": "quantitative", "axis": null}, "y": {"field": "a", "type": "quantitative", "axis": null}, "text": {"field": "st"}}}
]}
]
}
